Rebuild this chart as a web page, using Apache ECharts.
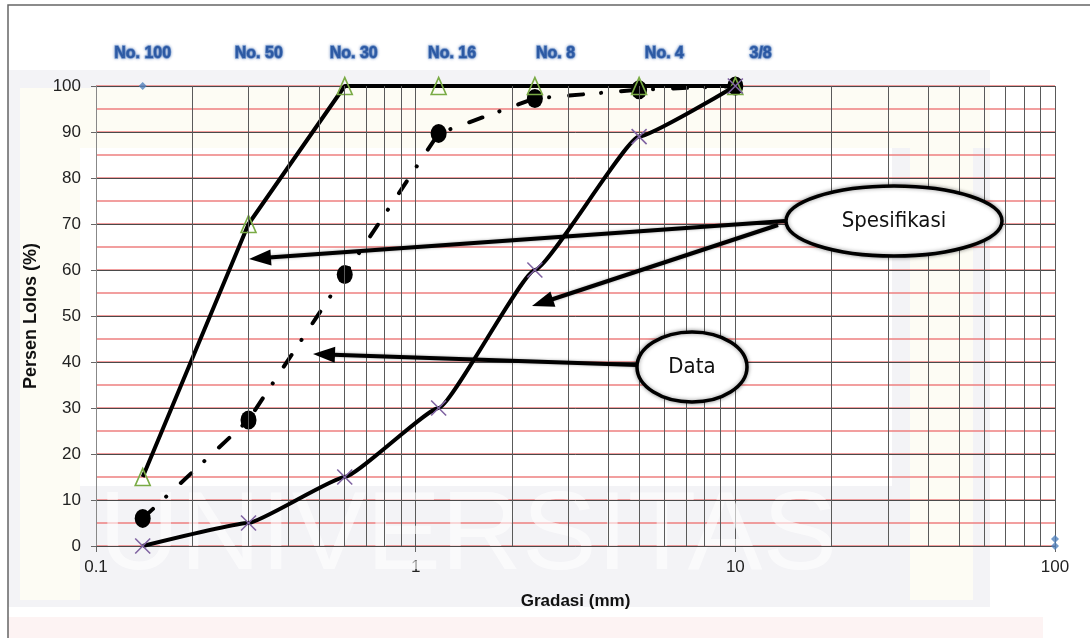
<!DOCTYPE html>
<html>
<head>
<meta charset="utf-8">
<script src="https://cdn.jsdelivr.net/npm/echarts@6/dist/echarts.min.js"></script>
<style>
  html, body { margin: 0; padding: 0; background: #ffffff; }
  #chart { width: 1090px; height: 638px; }
</style>
</head>
<body>
<div id="chart"></div>
<script>
// ---- data ----
const sieveNames   = ['No. 100', 'No. 50', 'No. 30', 'No. 16', 'No. 8', 'No. 4', '3/8'];
const sieveSizes   = [0.14, 0.3, 0.6, 1.18, 2.36, 5, 10];          // mm
const sieveLabelX  = [0.14, 0.323, 0.64, 1.30, 2.74, 6.0, 12.0];   // where the blue labels sit (mm)
const specUpper    = [15, 70, 100, 100, 100, 100, 100];            // % passing
const specLower    = [0, 5, 15, 30, 60, 89, 100];
const dataPassing  = [6, 27.4, 59, 89.7, 97.3, 99.2, 100];
const markerX      = [0.14, 100, 100];
const markerY      = [100, 0, 1.5];
const xMin = 0.1, xMax = 100;
const yMin = 0, yMax = 100, yStep = 10, yMinorStep = 5;
const annotations  = { spec: 'Spesifikasi', data: 'Data' };
const xAxisName = 'Gradasi (mm)';
const yAxisName = 'Persen Lolos (%)';

// minor grid of the log paper: 2..9 in every decade
const minorGridX = [];
for (let d = xMin; d < xMax * 0.999; d *= 10) {
  for (let k = 2; k <= 9; k++) minorGridX.push(+(k * d).toPrecision(3));
}

const pair = (xs, ys) => xs.map((x, i) => [x, ys[i]]);

// ---- annotation helpers (pure drawing, not data) ----
function arrow(x1, y1, x2, y2) {
  const len = 22, half = 8;
  const dx = x2 - x1, dy = y2 - y1, L = Math.hypot(dx, dy);
  const ux = dx / L, uy = dy / L;
  const bx = x2 - ux * len, by = y2 - uy * len;
  return [
    { type: 'line', z: 100, shape: { x1, y1, x2: bx + ux * 2, y2: by + uy * 2 },
      style: { stroke: '#000', lineWidth: 4, shadowBlur: 3, shadowColor: 'rgba(0,0,0,0.35)' } },
    { type: 'polygon', z: 100,
      shape: { points: [[x2, y2], [bx - uy * half, by + ux * half], [bx + uy * half, by - ux * half]] },
      style: { fill: '#000' } }
  ];
}
function bubble(cx, cy, rx, ry, text) {
  return [
    { type: 'ellipse', z: 101, shape: { cx, cy, rx, ry },
      style: { fill: '#fff', stroke: '#000', lineWidth: 3.5, shadowBlur: 4, shadowColor: 'rgba(0,0,0,0.4)' } },
    { type: 'text', z: 102, x: cx, y: cy,
      style: { text, align: 'center', verticalAlign: 'middle', fill: '#111',
               font: '22px "Liberation Sans Narrow", "DejaVu Sans Condensed", sans-serif' } }
  ];
}

const G = '#f3f3f6', Y = '#fdfcf4';
const background = [
  { type: 'rect', z: -10, shape: { x: 8, y: 70, width: 982, height: 537 }, style: { fill: G } },
  { type: 'rect', z: -9, shape: { x: 20, y: 88, width: 970, height: 512 }, style: { fill: Y } },
  { type: 'rect', z: -8, shape: { x: 80, y: 148, width: 812, height: 338 }, style: { fill: '#ffffff' } },
  { type: 'rect', z: -8, shape: { x: 80, y: 486, width: 830, height: 114 }, style: { fill: G } },
  { type: 'rect', z: -8, shape: { x: 892, y: 148, width: 18, height: 338 }, style: { fill: G } },
  { type: 'rect', z: -8, shape: { x: 973, y: 148, width: 17, height: 452 }, style: { fill: G } },
  { type: 'rect', z: -10, shape: { x: 8, y: 617, width: 1035, height: 21 }, style: { fill: '#fdf3f3' } },
  { type: 'text', z: 1, x: 468, y: 538,
    style: { text: 'UNIVERSITAS', align: 'center', verticalAlign: 'middle',
             fill: 'rgba(255,255,255,0.6)', font: '112px "Liberation Sans Narrow", "Liberation Sans", sans-serif' } },
  // page frame (top & left edges)
  { type: 'polyline', z: 5, shape: { points: [[8, 638], [8, 5], [1090, 5]] },
    style: { stroke: '#666', lineWidth: 1.5, fill: null } }
];

const graphics = background
  .concat(arrow(785, 221, 249, 259))
  .concat(arrow(778, 225, 532, 306))
  .concat(arrow(637, 365, 313, 354))
  .concat(bubble(894, 221, 108, 35, annotations.spec))
  .concat(bubble(692, 367, 55, 35, annotations.data));

const chart = echarts.init(document.getElementById('chart'), null, { renderer: 'canvas' });
chart.setOption({
  animation: false,
  backgroundColor: '#ffffff',
  grid: { left: 96, right: 35, top: 86, bottom: 92, containLabel: false },
  xAxis: {
    type: 'log', logBase: 10, min: xMin, max: xMax,
    name: xAxisName, nameLocation: 'middle', nameGap: 47,
    nameTextStyle: { fontFamily: '"Liberation Sans", Arial, sans-serif', fontWeight: 'bold', fontSize: 17, color: '#111' },
    axisLine: { show: true, lineStyle: { color: '#888', width: 1 } },
    axisTick: { show: true, length: 6, lineStyle: { color: '#666' } },
    axisLabel: { margin: 13, fontFamily: '"Liberation Sans", Arial, sans-serif', fontSize: 17, color: '#222',
                 formatter: v => String(+v.toPrecision(3)) },
    splitLine: { show: true, lineStyle: { color: '#5a5a5a', width: 1 } },
    minorTick: { show: false }, minorSplitLine: { show: false }
  },
  yAxis: [
    {
      type: 'value', min: yMin, max: yMax, interval: yStep, z: 1,
      name: yAxisName, nameLocation: 'middle', nameGap: 56, nameRotate: 90,
      nameTextStyle: { fontFamily: '"Liberation Sans", Arial, sans-serif', fontWeight: 'bold', fontSize: 18, color: '#111' },
      axisLine: { show: true, lineStyle: { color: '#888', width: 1 } },
      axisTick: { show: true, length: 5, lineStyle: { color: '#666' } },
      axisLabel: { margin: 15, fontFamily: '"Liberation Sans", Arial, sans-serif', fontSize: 17, color: '#222' },
      splitLine: { show: true, lineStyle: { color: '#4a4a4a', width: 1 } }
    },
    {
      // carries only the red 5 %-lines of the graph paper
      type: 'value', min: yMin, max: yMax, interval: yMinorStep, position: 'left', z: 0,
      axisLine: { show: false }, axisTick: { show: false }, axisLabel: { show: false },
      splitLine: { show: true, lineStyle: { color: '#ee7f7f', width: 1.5, type: 'solid' } }
    }
  ],
  series: [
    {
      name: 'gridX', type: 'scatter', z: 1, data: [], silent: true,
      markLine: {
        silent: true, symbol: ['none', 'none'], animation: false,
        label: { show: false },
        lineStyle: { color: '#5a5a5a', width: 1, type: 'solid' },
        data: minorGridX.map(v => ({ xAxis: v }))
      }
    },
    {
      name: 'Data', type: 'line', z: 3,
      data: pair(sieveSizes, dataPassing),
      symbol: 'circle', symbolSize: [16, 19],
      itemStyle: { color: '#000' },
      lineStyle: { color: '#000', width: 4, type: [14, 18, 0.1, 20], cap: 'round' }
    },
    {
      name: 'Spesifikasi atas', type: 'line', z: 4,
      data: pair(sieveSizes, specUpper),
      symbol: 'triangle', symbolSize: [15, 17],
      itemStyle: { color: 'rgba(255,255,255,0)', borderColor: '#7aab45', borderWidth: 1.6 },
      lineStyle: { color: '#000', width: 4 }
    },
    {
      name: 'Spesifikasi bawah', type: 'line', z: 5, smooth: 0.12, smoothMonotone: 'x',
      data: pair(sieveSizes, specLower),
      symbol: 'path://M0,0L10,10M10,0L0,10', symbolSize: 15,
      itemStyle: { color: '#8064a2', borderColor: '#8064a2', borderWidth: 1.6 },
      lineStyle: { color: '#000', width: 4 }
    },
    {
      name: 'markers', type: 'scatter', z: 6, clip: false,
      data: pair(markerX, markerY),
      symbol: 'diamond', symbolSize: 8,
      itemStyle: { color: '#4f81bd' }
    },
    {
      name: 'sieves', type: 'scatter', z: 7, clip: false, silent: true,
      data: sieveLabelX.map((x, i) => ({ value: [x, yMax], name: sieveNames[i] })),
      symbolSize: 0,
      label: {
        show: true, position: 'top', distance: 24, formatter: p => p.name,
        fontFamily: '"Liberation Sans", Arial, sans-serif', fontWeight: 'bold', fontSize: 16,
        color: '#1a4a98', textBorderColor: '#5f88c8', textBorderWidth: 1.4,
        textShadowColor: 'rgba(30,80,160,0.55)', textShadowBlur: 3
      }
    }
  ],
  graphic: { elements: graphics }
});
</script>
</body>
</html>
